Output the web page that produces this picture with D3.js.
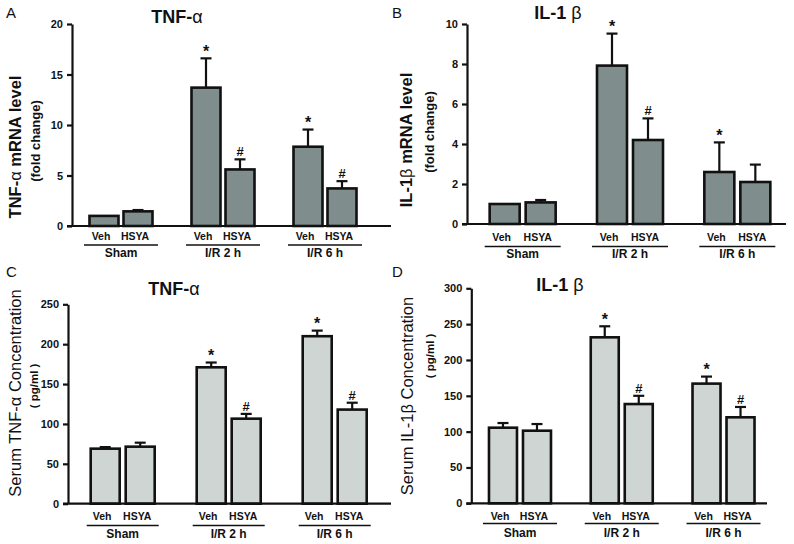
<!DOCTYPE html>
<html><head><meta charset="utf-8">
<script src="https://cdn.jsdelivr.net/npm/d3@7"></script>
<style>
html,body{margin:0;padding:0;background:#fff;}
text{font-family:"Liberation Sans",Arial,sans-serif;}
</style></head>
<body>
<svg id="chart" width="794" height="544"></svg>
<script>
// ---------- DATA ----------
const groups = ["Sham", "I/R 2 h", "I/R 6 h"];
const treatments = ["Veh", "HSYA"];

// Panel A: TNF-α mRNA (fold change)
const tnfMrnaMean = [1.0, 1.45, 13.7, 5.6, 7.85, 3.72];
const tnfMrnaErr  = [0, 0.13, 2.9, 1.0, 1.7, 0.72];
const tnfMrnaSig  = ["", "", "*", "#", "*", "#"];
const tnfMrnaTicks = [0, 5, 10, 15, 20];

// Panel B: IL-1β mRNA (fold change)
const il1MrnaMean = [1.0, 1.08, 7.92, 4.2, 2.6, 2.1];
const il1MrnaErr  = [0, 0.12, 1.6, 1.08, 1.48, 0.87];
const il1MrnaSig  = ["", "", "*", "#", "*", ""];
const il1MrnaTicks = [0, 2, 4, 6, 8, 10];

// Panel C: Serum TNF-α (pg/ml)
const tnfSerumMean = [69, 71.5, 171, 106.6, 210, 118];
const tnfSerumErr  = [2, 5, 6, 6, 7, 8.6];
const tnfSerumSig  = ["", "", "*", "#", "*", "#"];
const tnfSerumTicks = [0, 50, 100, 150, 200, 250];

// Panel D: Serum IL-1β (pg/ml)
const il1SerumMean = [105.5, 101.3, 231.6, 138.5, 167, 120];
const il1SerumErr  = [6.5, 9.3, 15.4, 11.5, 9.8, 14.4];
const il1SerumSig  = ["", "", "*", "#", "*", "#"];
const il1SerumTicks = [0, 50, 100, 150, 200, 250, 300];

// ---------- LAYOUT ----------
const svg = d3.select("#chart");
const darkFill = "#7f8d8c";
const lightFill = "#ced5d3";

function makeRows(means, errs, sigs) {
  const rows = [];
  groups.forEach((g, gi) => treatments.forEach((t, ti) => {
    const i = gi * 2 + ti;
    rows.push({group: g, treat: t, mean: means[i], err: errs[i], sig: sigs[i]});
  }));
  return rows;
}

function drawPanel(p) {
  const g = svg.append("g");
  const y = d3.scaleLinear().domain([0, p.yMax]).range([p.y0, p.yTop]);
  const xg = d3.scaleBand().domain(groups).range(p.groupRange).paddingInner(0).paddingOuter(0);
  const half = xg.bandwidth() / 2;
  const xi = d3.scaleBand().domain(treatments)
    .range([half - p.innerSpan, half + p.innerSpan])
    .paddingInner(1 - p.barW / p.innerSpan).paddingOuter((1 - p.barW / p.innerSpan) / 2);
  const cx = d => xg(d.group) + xi(d.treat) + xi.bandwidth() / 2;
  const rows = makeRows(p.mean, p.err, p.sig);

  // error bars
  const eb = g.append("g").selectAll("g").data(rows.filter(d => d.err > 0)).join("g");
  eb.append("line").attr("x1", cx).attr("x2", cx)
    .attr("y1", d => y(d.mean)).attr("y2", d => y(d.mean + d.err))
    .attr("stroke", "#111").attr("stroke-width", 2.2);
  eb.append("line").attr("x1", d => cx(d) - 5.5).attr("x2", d => cx(d) + 5.5)
    .attr("y1", d => y(d.mean + d.err)).attr("y2", d => y(d.mean + d.err))
    .attr("stroke", "#111").attr("stroke-width", 2.2);

  // bars
  g.append("g").selectAll("rect").data(rows).join("rect")
    .attr("x", d => xg(d.group) + xi(d.treat))
    .attr("width", xi.bandwidth())
    .attr("y", d => y(d.mean))
    .attr("height", d => p.y0 - y(d.mean))
    .attr("fill", p.fill).attr("stroke", "#111").attr("stroke-width", 2.6);

  // significance marks
  g.append("g").selectAll("text").data(rows.filter(d => d.sig)).join("text")
    .attr("x", cx)
    .attr("y", d => y(d.mean + d.err) - (d.sig === "*" ? 1.5 : 3))
    .attr("text-anchor", "middle")
    .attr("font-size", d => d.sig === "*" ? 16 : 13)
    .attr("font-weight", "bold")
    .attr("fill", "#111")
    .text(d => d.sig);

  // y axis
  const ax = g.append("g").attr("transform", `translate(${p.axisX},0)`)
    .call(d3.axisLeft(y).tickValues(p.ticks).tickSize(5).tickSizeOuter(0).tickPadding(4));
  ax.select(".domain").attr("stroke", "#111").attr("stroke-width", 2.2);
  ax.selectAll(".tick line").attr("stroke", "#111").attr("stroke-width", 2.2);
  ax.selectAll(".tick text").attr("font-size", 11).attr("font-weight", "bold")
    .attr("fill", "#111").attr("font-family", "Liberation Sans, Arial, sans-serif");

  // x axis baseline
  g.append("line").attr("x1", p.axisX - 5).attr("x2", p.axisEnd)
    .attr("y1", y(0)).attr("y2", y(0)).attr("stroke", "#111").attr("stroke-width", 2.2);

  // treatment labels
  g.append("g").selectAll("text").data(rows).join("text")
    .attr("x", d => cx(d) - 3).attr("y", p.treatY)
    .attr("text-anchor", "middle").attr("font-size", 10.5).attr("font-weight", "bold")
    .attr("fill", "#111").text(d => d.treat);

  // group underline + labels
  g.append("g").selectAll("line").data(groups).join("line")
    .attr("x1", d => xg(d) + half - p.lineHalf).attr("x2", d => xg(d) + half + p.lineHalf)
    .attr("y1", p.lineY).attr("y2", p.lineY).attr("stroke", "#111").attr("stroke-width", 1.3);
  g.append("g").selectAll("text").data(groups).join("text")
    .attr("x", d => xg(d) + half).attr("y", p.groupY)
    .attr("text-anchor", "middle").attr("font-size", 12).attr("font-weight", "bold")
    .attr("fill", "#111").text(d => d);

  // title
  const t = g.append("text").attr("x", p.titleX).attr("y", p.titleY)
    .attr("text-anchor", "middle").attr("font-size", 18).attr("font-weight", "bold").attr("fill", "#111");
  t.append("tspan").text(p.title[0]);
  t.append("tspan").attr("font-weight", "normal").text(p.title[1]);

  // y titles
  const yt1 = g.append("text")
    .attr("transform", `translate(${p.yt1X},${p.yt1Y}) rotate(-90)`)
    .attr("text-anchor", "middle").attr("font-size", p.yt1Size)
    .attr("font-weight", p.yt1Weight).attr("fill", "#111");
  p.yt1.forEach((s, i) => yt1.append("tspan").attr("font-weight", i === 1 ? "normal" : null).text(s));
  g.append("text")
    .attr("transform", `translate(${p.yt2X},${p.yt2Y}) rotate(-90)`)
    .attr("text-anchor", "middle").attr("font-size", p.yt2Size)
    .attr("font-weight", "bold").attr("fill", "#111").text(p.yt2);

  // panel letter
  g.append("text").attr("x", p.letterX).attr("y", p.letterY)
    .attr("font-size", 15).attr("fill", "#111").text(p.letter);
}

drawPanel({
  letter: "A", letterX: 6, letterY: 18,
  mean: tnfMrnaMean, err: tnfMrnaErr, sig: tnfMrnaSig, ticks: tnfMrnaTicks, yMax: 20,
  fill: darkFill, axisX: 72, y0: 226, yTop: 24, groupRange: [70, 376], innerSpan: 34, barW: 29,
  axisEnd: 391, treatY: 240, lineY: 245, lineHalf: 37, groupY: 257,
  title: ["TNF-", "α"], titleX: 177, titleY: 23,
  yt1: ["TNF-", "α", " mRNA level"], yt1X: 21, yt1Y: 147, yt1Size: 16.5, yt1Weight: "bold",
  yt2: "(fold change)", yt2X: 40, yt2Y: 141, yt2Size: 13
});

drawPanel({
  letter: "B", letterX: 392, letterY: 18,
  mean: il1MrnaMean, err: il1MrnaErr, sig: il1MrnaSig, ticks: il1MrnaTicks, yMax: 10,
  fill: darkFill, axisX: 467, y0: 224, yTop: 24, groupRange: [469, 791], innerSpan: 36, barW: 30,
  axisEnd: 786, treatY: 241, lineY: 246.5, lineHalf: 38, groupY: 258,
  title: ["IL-1 ", "β"], titleX: 558, titleY: 19,
  yt1: ["IL-1", "β", " mRNA level"], yt1X: 412, yt1Y: 140, yt1Size: 16.5, yt1Weight: "bold",
  yt2: "(fold change)", yt2X: 434, yt2Y: 132, yt2Size: 13
});

drawPanel({
  letter: "C", letterX: 6, letterY: 277,
  mean: tnfSerumMean, err: tnfSerumErr, sig: tnfSerumSig, ticks: tnfSerumTicks, yMax: 250,
  fill: lightFill, axisX: 68, y0: 503.7, yTop: 304.3, groupRange: [69.7, 387.7], innerSpan: 35, barW: 29,
  axisEnd: 391, treatY: 520, lineY: 525.5, lineHalf: 36, groupY: 538,
  title: ["TNF-", "α"], titleX: 174, titleY: 295,
  yt1: ["Serum TNF-", "α", " Concentration"], yt1X: 21, yt1Y: 393, yt1Size: 16.5, yt1Weight: "normal",
  yt2: "( pg/ml )", yt2X: 38, yt2Y: 386, yt2Size: 11.5
});

drawPanel({
  letter: "D", letterX: 392, letterY: 277,
  mean: il1SerumMean, err: il1SerumErr, sig: il1SerumSig, ticks: il1SerumTicks, yMax: 300,
  fill: lightFill, axisX: 471.3, y0: 503.3, yTop: 288.3, groupRange: [469.1, 774.4], innerSpan: 34, barW: 28,
  axisEnd: 767, treatY: 520, lineY: 523.5, lineHalf: 37, groupY: 537,
  title: ["IL-1 ", "β"], titleX: 560, titleY: 291,
  yt1: ["Serum IL-1", "β", " Concentration"], yt1X: 413, yt1Y: 396, yt1Size: 16.5, yt1Weight: "normal",
  yt2: "( pg/ml )", yt2X: 434, yt2Y: 356, yt2Size: 11.5
});
</script>
</body></html>
